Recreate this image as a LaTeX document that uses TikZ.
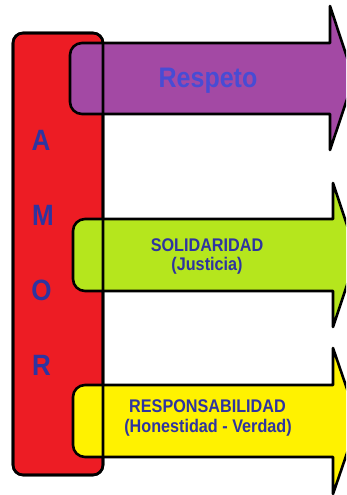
\documentclass[tikz,border=0pt]{standalone}
\usepackage{fontspec}
\setmainfont{Liberation Sans}
\definecolor{amorred}{RGB}{237,28,36}
\definecolor{respurple}{RGB}{163,73,164}
\definecolor{solgreen}{RGB}{181,230,29}
\definecolor{resyellow}{RGB}{255,242,0}
\definecolor{txtblue}{RGB}{72,76,212}
\definecolor{dkblue}{RGB}{46,52,160}
\newcommand{\tall}[1]{\scalebox{1}[1.13]{#1}}
\begin{document}
\begin{tikzpicture}[x=1pt,y=-1pt,
  outl/.style={draw=black,line width=2.6pt,line join=round},
  letter/.style={font=\bfseries\fontsize{26}{30}\selectfont,text=dkblue,anchor=base,inner sep=0pt},
  small/.style={font=\bfseries\fontsize{16.2}{19}\selectfont,text=dkblue,anchor=base,inner sep=0pt}]
\useasboundingbox (0,0) rectangle (346,495);
\clip (0,0) rectangle (346,495);
% red bar
\fill[amorred,rounded corners=10pt] (13,33) rectangle (103,475);
\draw[outl,rounded corners=10pt] (13,33) rectangle (103,475);
% arrows
\newcommand{\valarrow}[8]{% x0, top, bot, xh, htop, hbot, tip, color
  \path[outl,fill=#8] (#4,#2) -- (#4,#5) -- (#7,{(#2+#3)/2}) -- (#4,#6) -- (#4,#3)
    -- ({#1+12},#3) arc[start angle=90,end angle=180,radius=12] -- (#1,{#2+12})
    arc[start angle=180,end angle=270,radius=12] -- cycle;}
\valarrow{70}{43}{114}{330}{6}{150}{354}{respurple}
\valarrow{73}{219}{291}{333}{183}{327}{357}{solgreen}
\valarrow{73}{385}{457}{333}{348}{494}{358}{resyellow}
% red outline again
\draw[outl,rounded corners=10pt] (13,33) rectangle (103,475);
% letters
\node[letter] (a) at (41,150) {\tall{A}};
\node[letter] (m) at (43,225) {\tall{M}};
\node[letter] (o) at (41.5,300) {\tall{O}};
\node[letter] (r) at (41.5,375) {\tall{R}};
% texts
\node[font=\bfseries\fontsize{25}{28}\selectfont,text=txtblue,anchor=base,inner sep=0pt] (resp) at (208,88) {\tall{Respeto}};
\node[small] (sol) at (207,251) {\tall{SOLIDARIDAD}};
\node[small] (jus) at (207,270) {\tall{(Justicia)}};
\node[small] (rsp) at (207.5,412) {\tall{RESPONSABILIDAD}};
\node[small] (hon) at (208,432) {\tall{(Honestidad - Verdad)}};
\end{tikzpicture}
\end{document}
